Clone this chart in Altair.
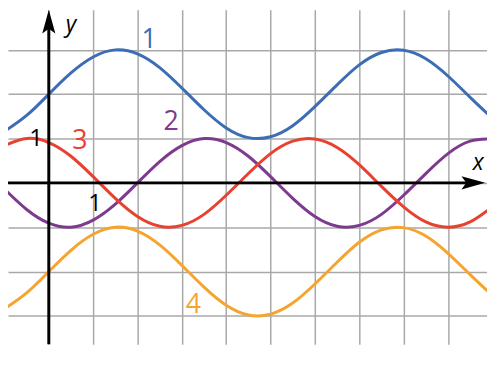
import altair as alt
import pandas as pd

# ---- data (grid units) ----
x_vals = [-1.0, -0.5, 0.0, 0.5, 1.0, 1.5, 2.0, 2.5, 3.0, 3.5, 4.0, 4.5,
          5.0, 5.5, 6.0, 6.5, 7.0, 7.5, 8.0, 8.5, 9.0, 9.5, 10.0]
curve1 = [1.16, 1.52, 2.0, 2.48, 2.84, 3.0, 2.91, 2.6, 2.14, 1.65, 1.24, 1.02,
          1.04, 1.29, 1.72, 2.21, 2.66, 2.94, 2.99, 2.8, 2.41, 1.93, 1.46]
curve2 = [-0.14, -0.6, -0.91, -1.0, -0.84, -0.48, 0.0, 0.48, 0.84, 1.0, 0.91, 0.6,
          0.14, -0.35, -0.76, -0.98, -0.96, -0.71, -0.28, 0.21, 0.66, 0.94, 0.99]
curve3 = [0.84, 1.0, 0.91, 0.6, 0.14, -0.35, -0.76, -0.98, -0.96, -0.71, -0.28, 0.21,
          0.66, 0.94, 0.99, 0.8, 0.41, -0.08, -0.54, -0.88, -1.0, -0.88, -0.54]
curve4 = [-2.84, -2.48, -2.0, -1.52, -1.16, -1.0, -1.09, -1.4, -1.86, -2.35, -2.76, -2.98,
          -2.96, -2.71, -2.28, -1.79, -1.34, -1.06, -1.01, -1.2, -1.59, -2.07, -2.54]

series_names = ["1", "2", "3", "4"]
series_colors = ["#3d6db5", "#7e3a8e", "#e8412f", "#f5a52f"]

# curve labels
label_text = ["1", "2", "3", "4"]
label_x = [2.26, 2.76, 0.7, 3.26]
label_y = [3.23, 1.36, 0.94, -2.75]

# unit tick labels
tick_text = ["1", "1"]
tick_x = [-0.29, 1.04]
tick_y = [0.98, -0.48]

# axis names
name_text = ["y", "x"]
name_x = [0.5, 9.68]
name_y = [3.55, 0.45]

grid_x = list(range(-1, 11))
grid_y = list(range(-4, 5))

X_DOMAIN = [-0.92, 9.88]
Y_DOMAIN = [-3.64, 3.905]
X_ARROW_TIP = 9.84

# ---- build tables ----
rows = []
for name, ys in zip(series_names, [curve1, curve2, curve3, curve4]):
    for xv, yv in zip(x_vals, ys):
        rows.append({"x": xv, "y": yv, "s": name})
curves = pd.DataFrame(rows)
labels = pd.DataFrame({"t": label_text, "x": label_x, "y": label_y, "s": series_names})
ticks = pd.DataFrame({"t": tick_text, "x": tick_x, "y": tick_y})
names = pd.DataFrame({"t": name_text, "x": name_x, "y": name_y})

xs = alt.Scale(domain=X_DOMAIN, nice=False, zero=False)
ys_ = alt.Scale(domain=Y_DOMAIN, nice=False, zero=False)
cs = alt.Scale(domain=series_names, range=series_colors)

x_axis = alt.Axis(values=grid_x, grid=True, labels=False, ticks=False, domain=False,
                  title=None, gridColor="#a8a8a8", gridWidth=1.5, gridOpacity=1)
y_axis = alt.Axis(values=grid_y, grid=True, labels=False, ticks=False, domain=False,
                  title=None, gridColor="#a8a8a8", gridWidth=1.5, gridOpacity=1)

lines = alt.Chart(curves).mark_line(strokeWidth=3, interpolate="natural", clip=True).encode(
    x=alt.X("x:Q", scale=xs, axis=x_axis),
    y=alt.Y("y:Q", scale=ys_, axis=y_axis),
    color=alt.Color("s:N", scale=cs, legend=None),
    detail="s:N",
)

xaxis_line = alt.Chart().mark_rule(color="black", strokeWidth=3).encode(
    x=alt.datum(X_DOMAIN[0], scale=xs), x2=alt.datum(X_ARROW_TIP - 0.3),
    y=alt.datum(0, scale=ys_),
)
yaxis_line = alt.Chart().mark_rule(color="black", strokeWidth=3).encode(
    x=alt.datum(0, scale=xs),
    y=alt.datum(Y_DOMAIN[0], scale=ys_), y2=alt.datum(Y_DOMAIN[1] - 0.3),
)

up_arrow = "M0,0 L0.55,2 L0,1.6 L-0.55,2 Z"
right_arrow = "M0,0 L-2,-0.55 L-1.6,0 L-2,0.55 Z"

yhead = alt.Chart().mark_point(shape=up_arrow, size=576, filled=True, color="black",
                               opacity=1, strokeWidth=0).encode(
    x=alt.datum(0, scale=xs), y=alt.datum(Y_DOMAIN[1], scale=ys_))
xhead = alt.Chart().mark_point(shape=right_arrow, size=576, filled=True, color="black",
                               opacity=1, strokeWidth=0).encode(
    x=alt.datum(X_ARROW_TIP, scale=xs), y=alt.datum(0, scale=ys_))

curve_labels = alt.Chart(labels).mark_text(font="Open Sans", fontSize=27,
                                           baseline="middle", align="center").encode(
    x=alt.X("x:Q", scale=xs), y=alt.Y("y:Q", scale=ys_), text="t:N",
    color=alt.Color("s:N", scale=cs, legend=None),
)
tick_labels = alt.Chart(ticks).mark_text(font="Open Sans", fontSize=24, color="black",
                                         baseline="middle", align="center").encode(
    x=alt.X("x:Q", scale=xs), y=alt.Y("y:Q", scale=ys_), text="t:N")
axis_names = alt.Chart(names).mark_text(font="Open Sans", fontSize=23, fontStyle="italic",
                                        color="black", baseline="middle", align="center").encode(
    x=alt.X("x:Q", scale=xs), y=alt.Y("y:Q", scale=ys_), text="t:N")

chart = alt.layer(lines, xaxis_line, yaxis_line, yhead, xhead,
                  curve_labels, tick_labels, axis_names).properties(
    width=484, height=338, padding=0,
    autosize=alt.AutoSizeParams(type="none"),
).configure_view(stroke=None)

chart.save("out.html", embed_options={"renderer": "svg", "actions": False})
